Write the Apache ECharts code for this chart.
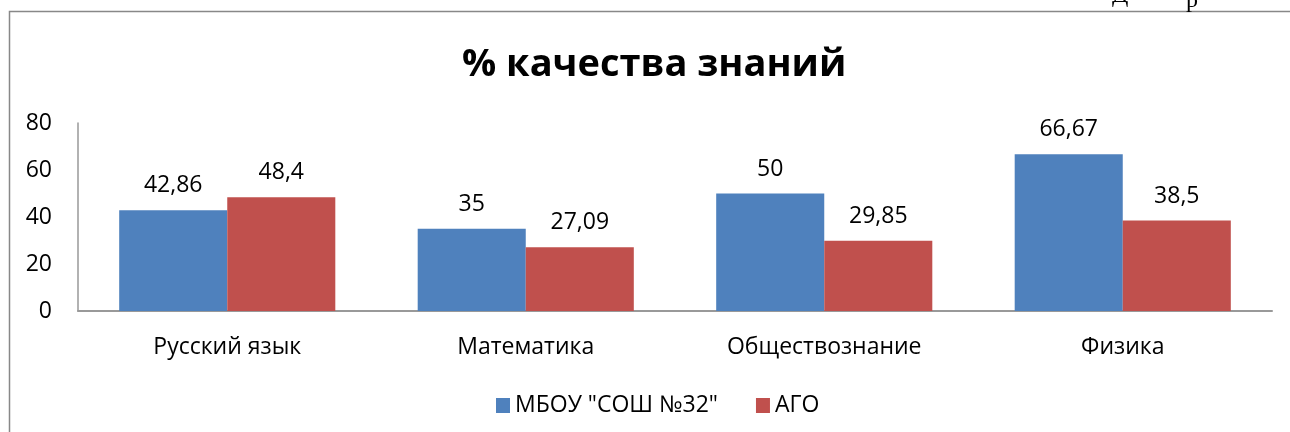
<!DOCTYPE html>
<html>
<head>
<meta charset="utf-8">
<script src="https://cdn.jsdelivr.net/npm/echarts@6/dist/echarts.min.js"></script>
<style>
	html, body { margin: 0; padding: 0; background: #fff; }
	#chart { width: 1290px; height: 432px; }
</style>
</head>
<body>
<div id="chart"></div>
<script>
// данные диаграммы
var categories = ['Русский язык', 'Математика', 'Обществознание', 'Физика'];
var schoolValues = [42.86, 35, 50, 66.67];
var agoValues = [48.4, 27.09, 29.85, 38.5];
var seriesNames = ['МБОУ "СОШ №32"', 'АГО'];

var font = '"Open Sans", "Noto Sans", sans-serif';

// подпись с запятой вместо точки
function commaLabel(p) {
	return String(p.value).replace('.', ',');
}

var myChart = echarts.init(document.getElementById('chart'));
myChart.setOption({
	animation: false,
	backgroundColor: '#fff',
	title: {
		text: '% качества знаний',
		left: 457,
		top: 41,
		textStyle: { fontFamily: font, fontSize: 38, fontWeight: 'bold', color: '#000' }
	},
	legend: {
		top: 389,
		left: 491,
		itemWidth: 14,
		itemHeight: 15,
		itemGap: 38,
		icon: 'rect',
		textStyle: { fontFamily: font, fontSize: 23, color: '#000' },
		data: seriesNames
	},
	grid: { left: 78, right: 18, top: 123, bottom: 121 },
	xAxis: {
		type: 'category',
		data: categories,
		axisLine: { lineStyle: { color: '#999', width: 2 } },
		axisTick: { show: false },
		axisLabel: { fontFamily: font, fontSize: 23, color: '#000', margin: 25 }
	},
	yAxis: {
		type: 'value',
		min: 0,
		max: 80,
		interval: 20,
		axisLine: { show: true, lineStyle: { color: '#999', width: 1.5 } },
		axisTick: { show: false },
		splitLine: { show: false },
		axisLabel: { fontFamily: font, fontSize: 23, color: '#000', margin: 26 }
	},
	series: [
		{
			name: seriesNames[0],
			type: 'bar',
			data: schoolValues,
			barGap: '0%',
			barCategoryGap: '27.6%',
			itemStyle: { color: '#4F81BD' },
			label: { show: true, position: 'top', distance: 13, formatter: commaLabel,
				fontFamily: font, fontSize: 23, color: '#000' }
		},
		{
			name: seriesNames[1],
			type: 'bar',
			data: agoValues,
			itemStyle: { color: '#C0504D' },
			label: { show: true, position: 'top', distance: 13, formatter: commaLabel,
				fontFamily: font, fontSize: 23, color: '#000' }
		}
	],
	graphic: [
		// рамка диаграммы
		{
			type: 'rect',
			shape: { x: 9.5, y: 11.5, width: 1400, height: 600 },
			style: { fill: 'none', stroke: '#888', lineWidth: 1.5 },
			silent: true
		},
		// обрезанный текст документа сверху
		{
			type: 'text',
			x: 1112,
			y: 8,
			style: { text: 'Д', font: '24px "Liberation Serif", serif', fill: '#000', verticalAlign: 'bottom' },
			silent: true
		},
		{
			type: 'text',
			x: 1186,
			y: 13,
			style: { text: 'р', font: '24px "Liberation Serif", serif', fill: '#000', verticalAlign: 'bottom' },
			silent: true
		}
	]
});
</script>
</body>
</html>
